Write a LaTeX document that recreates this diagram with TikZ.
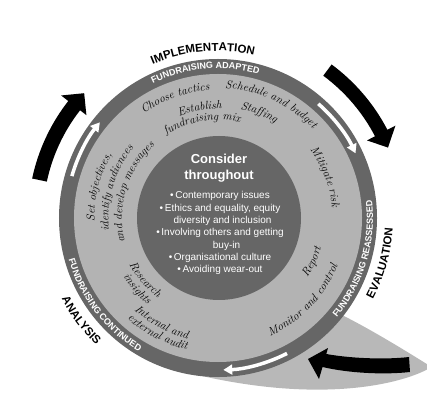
\documentclass[tikz,border=0pt]{standalone}
\usepackage{fontspec}
\newfontfamily\sansf{Liberation Sans}
\usetikzlibrary{decorations.text,arrows.meta}
\definecolor{ringdark}{HTML}{666666}
\definecolor{ringlight}{HTML}{B3B3B3}
\definecolor{shadowgray}{HTML}{B8B8B8}
\newcommand\hw{\itshape\fontsize{11.5}{13}\selectfont}
\newcommand\lblfont{\sansf\bfseries\fontsize{11.5}{12}\selectfont}
\newcommand\ringfont{\sansf\bfseries\fontsize{9}{10}\selectfont}
% radius, centre angle, half span, direction (+1 ccw, -1 cw), decoration keys
\newcommand\arctxt[5]{%
  \path[decorate,decoration={text along path,text align=center,#5}]
    ({#2-(#4)*(#3)}:#1) arc[start angle={#2-(#4)*(#3)},end angle={#2+(#4)*(#3)},radius=#1];}
\tikzset{
  blackarrow/.style={fill=black},
  whitearrow/.style={draw=white,line width=3.5pt,-{Triangle[length=9pt,width=10pt]}},
  titletext/.style={text=white,font=\sansf\bfseries\fontsize{13}{15.7}\selectfont,align=center,inner sep=0pt},
  bullettext/.style={text=white,font=\sansf\fontsize{10}{12.3}\selectfont,align=center,inner sep=0pt}
}
\begin{document}
\begin{tikzpicture}[x=1pt,y=1pt]
\useasboundingbox (-218,-193) rectangle (209,218);
% shadow tail
\fill[shadowgray] (122,-96) .. controls (150,-110) and (180,-128) .. (212,-148)
  -- (212,-150) .. controls (180,-168) and (90,-188) .. (-48,-150) -- (0,0) -- cycle;
% rings
\fill[ringdark] (0,0) circle[radius=159];
\fill[ringlight] (0,0) circle[radius=144];
\fill[ringdark] (1,0) circle[radius=82];
% black arrows
\fill[blackarrow] (168:175) arc[start angle=168,end angle=142,radius=175] -- (142:167) -- (137:183)
  -- (142:199) -- (142:190) arc[start angle=142,end angle=168,radius=190] -- cycle;
\fill[blackarrow] (53.5:177) arc[start angle=53.5,end angle=27.5,radius=177] -- (27.5:168) -- (22.5:184)
  -- (27.5:200) -- (27.5:191) arc[start angle=27.5,end angle=53.5,radius=191] -- cycle;
\fill[blackarrow] (191,-139) .. controls (165,-142) and (130,-140) .. (108.3,-136) -- (110,-130) -- (90,-141)
  -- (101,-161) -- (104.5,-149) .. controls (130,-155) and (165,-157) .. (192,-154) -- cycle;
% white arrows
\draw[whitearrow] (164:152) arc[start angle=164,end angle=141,radius=152];
\draw[whitearrow] (48.7:152) arc[start angle=48.7,end angle=25.2,radius=152];
\draw[whitearrow] (-63:152) arc[start angle=-63,end angle=-88,radius=152];
% centre text
\node[titletext] (title) at (1,50) {Consider\\throughout};
\node[bullettext] (bullets) at (2,-15.3) {%
  •\,Contemporary issues\\
  •\,Ethics and equality, equity\\
  \hspace*{5pt}diversity and inclusion\\
  •\,Involving others and getting\\
  \hspace*{13pt}buy-in\\
  •\,Organisational culture\\
  •\,Avoiding wear-out};
% outer labels
\arctxt{167}{95.3}{50}{-1}{text={|\lblfont|IMPLEMENTATION}}
\arctxt{175}{-15.5}{40}{1}{text={|\lblfont|EVALUATION}}
\arctxt{176}{216.8}{40}{1}{text={|\lblfont|ANALYSIS}}
% ring labels
\arctxt{149.5}{95}{50}{-1}{text color=white,text={|\ringfont|FUNDRAISING ADAPTED}}
\arctxt{155}{-16.6}{50}{1}{text color=white,text={|\ringfont|FUNDRAISING REASSESSED}}
\arctxt{155}{217.5}{50}{1}{text color=white,text={|\ringfont|FUNDRAISING CONTINUED}}
% handwritten items
\arctxt{128}{109.6}{50}{-1}{text={|\hw|Choose tactics}}
\arctxt{130}{65}{50}{-1}{text={|\hw|Schedule and budget}}
\arctxt{109}{99.5}{40}{-1}{text={|\hw|Establish}}
\arctxt{111}{68.7}{40}{-1}{text={|\hw|Staffing}}
\arctxt{98}{99.5}{50}{-1}{text={|\hw|fundraising mix}}
\arctxt{114.5}{20.9}{50}{-1}{text={|\hw|Mitigate risk}}
\arctxt{107.5}{-25}{30}{1}{text={|\hw|Report}}
\arctxt{129}{-44}{50}{1}{text={|\hw|Monitor and control}}
\arctxt{123.5}{165.3}{50}{-1}{text={|\hw|Set objectives,}}
\arctxt{109.5}{163.5}{50}{-1}{text={|\hw|identify audiences}}
\arctxt{96}{162.8}{60}{-1}{text={|\hw|and develop messages}}
\arctxt{100}{220.3}{40}{1}{text={|\hw|Research}}
\arctxt{111.5}{221.4}{40}{1}{text={|\hw|insights}}
\arctxt{124.5}{241.7}{40}{1}{text={|\hw|Internal and}}
\arctxt{135.5}{242.3}{40}{1}{text={|\hw|external audit}}
\end{tikzpicture}
\end{document}
